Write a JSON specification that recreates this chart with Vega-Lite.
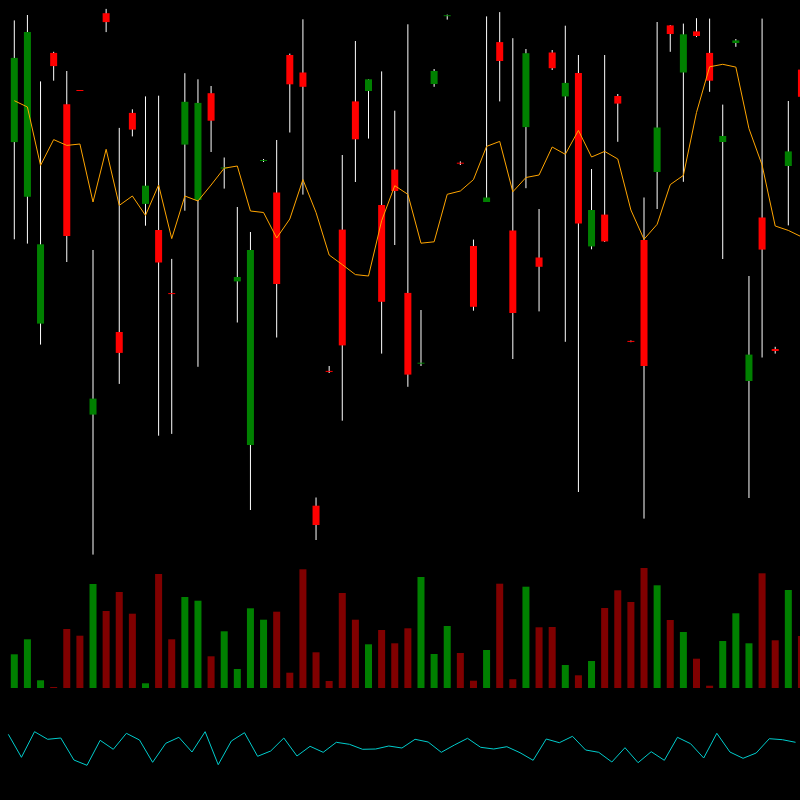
{
  "$schema": "https://vega.github.io/schema/vega-lite/v6.json",
  "width": 800,
  "height": 800,
  "autosize": {"type": "none"},
  "padding": 0,
  "background": "#000000",
  "config": {"view": {"stroke": null}},
  "data": {"values": [
    {"i":0,"o":45.79,"h":57.96,"l":36.07,"c":54.21,"ma":49.93,"v":3370,"ind":65.7,"dir":"up"},
    {"i":1,"o":40.32,"h":58.5,"l":35.64,"c":56.79,"ma":49.3,"v":4870,"ind":42.7,"dir":"up"},
    {"i":2,"o":27.64,"h":51.86,"l":25.54,"c":35.57,"ma":43.46,"v":770,"ind":68.3,"dir":"up"},
    {"i":3,"o":54.71,"h":54.82,"l":51.93,"c":53.39,"ma":46.04,"v":100,"ind":60.7,"dir":"down"},
    {"i":4,"o":49.57,"h":52.9,"l":33.8,"c":36.4,"ma":45.46,"v":5900,"ind":62,"dir":"down"},
    {"i":5,"o":51.0,"h":51.0,"l":50.9,"c":50.9,"ma":45.6,"v":5230,"ind":40,"dir":"down"},
    {"i":6,"o":18.54,"h":35.0,"l":4.54,"c":20.14,"ma":39.8,"v":10400,"ind":34.7,"dir":"up"},
    {"i":7,"o":58.68,"h":59.11,"l":56.79,"c":57.79,"ma":45.07,"v":7700,"ind":59.7,"dir":"down"},
    {"i":8,"o":26.8,"h":47.21,"l":21.61,"c":24.71,"ma":39.46,"v":9600,"ind":50.7,"dir":"down"},
    {"i":9,"o":48.71,"h":49.07,"l":46.36,"c":47.04,"ma":40.4,"v":7430,"ind":66.7,"dir":"down"},
    {"i":10,"o":39.61,"h":50.36,"l":37.43,"c":41.43,"ma":38.46,"v":470,"ind":60,"dir":"up"},
    {"i":11,"o":37.0,"h":50.43,"l":16.43,"c":33.75,"ma":41.5,"v":11400,"ind":37.7,"dir":"down"},
    {"i":12,"o":30.69,"h":34.11,"l":16.61,"c":30.59,"ma":36.14,"v":4870,"ind":56.7,"dir":"down"},
    {"i":13,"o":45.54,"h":52.68,"l":38.93,"c":49.82,"ma":40.4,"v":9100,"ind":62.7,"dir":"up"},
    {"i":14,"o":40.0,"h":52.07,"l":23.32,"c":49.71,"ma":39.9,"v":8730,"ind":48,"dir":"up"},
    {"i":15,"o":50.68,"h":51.4,"l":44.8,"c":47.93,"ma":41.5,"v":3170,"ind":68.3,"dir":"down"},
    {"i":16,"o":43.15,"h":44.25,"l":41.14,"c":43.25,"ma":43.18,"v":5670,"ind":35.3,"dir":"up"},
    {"i":17,"o":31.86,"h":39.3,"l":27.75,"c":32.3,"ma":43.4,"v":1900,"ind":59,"dir":"up"},
    {"i":18,"o":15.5,"h":36.8,"l":9.0,"c":35.0,"ma":38.9,"v":7970,"ind":67.3,"dir":"up"},
    {"i":19,"o":43.9,"h":44.1,"l":43.8,"c":44.0,"ma":38.75,"v":6830,"ind":43.7,"dir":"up"},
    {"i":20,"o":40.75,"h":46.0,"l":26.25,"c":31.6,"ma":36.2,"v":7630,"ind":49,"dir":"down"},
    {"i":21,"o":54.5,"h":54.64,"l":46.75,"c":51.57,"ma":38.1,"v":1530,"ind":62,"dir":"down"},
    {"i":22,"o":52.75,"h":58.07,"l":40.54,"c":51.32,"ma":42.04,"v":11870,"ind":44,"dir":"down"},
    {"i":23,"o":9.43,"h":10.25,"l":6.0,"c":7.5,"ma":38.75,"v":3570,"ind":53.7,"dir":"down"},
    {"i":24,"o":22.91,"h":23.4,"l":22.7,"c":22.81,"ma":34.5,"v":700,"ind":47.7,"dir":"down"},
    {"i":25,"o":37.04,"h":44.5,"l":17.93,"c":25.46,"ma":33.54,"v":9500,"ind":57.7,"dir":"down"},
    {"i":26,"o":49.86,"h":55.9,"l":41.8,"c":46.07,"ma":32.54,"v":6830,"ind":55.7,"dir":"down"},
    {"i":27,"o":50.9,"h":52.07,"l":46.14,"c":52.07,"ma":32.4,"v":4370,"ind":50.7,"dir":"up"},
    {"i":28,"o":39.5,"h":52.86,"l":24.64,"c":29.82,"ma":37.93,"v":5800,"ind":51,"dir":"down"},
    {"i":29,"o":43.04,"h":48.93,"l":35.5,"c":40.9,"ma":41.43,"v":4470,"ind":54,"dir":"down"},
    {"i":30,"o":30.71,"h":57.57,"l":21.32,"c":22.54,"ma":40.57,"v":5970,"ind":52,"dir":"down"},
    {"i":31,"o":23.63,"h":29.0,"l":23.4,"c":23.73,"ma":35.68,"v":11100,"ind":60.7,"dir":"up"},
    {"i":32,"o":51.6,"h":53.1,"l":51.32,"c":52.9,"ma":35.82,"v":3400,"ind":58,"dir":"up"},
    {"i":33,"o":58.38,"h":58.54,"l":58.04,"c":58.48,"ma":40.57,"v":6200,"ind":47.7,"dir":"up"},
    {"i":34,"o":43.73,"h":43.86,"l":43.5,"c":43.63,"ma":40.9,"v":3500,"ind":55,"dir":"down"},
    {"i":35,"o":35.4,"h":36.04,"l":28.93,"c":29.32,"ma":42.04,"v":730,"ind":61.7,"dir":"down"},
    {"i":36,"o":39.8,"h":58.36,"l":39.8,"c":40.25,"ma":45.36,"v":3800,"ind":52.7,"dir":"up"},
    {"i":37,"o":55.79,"h":58.79,"l":49.86,"c":53.9,"ma":45.86,"v":10430,"ind":51,"dir":"down"},
    {"i":38,"o":36.96,"h":56.18,"l":24.1,"c":28.71,"ma":40.82,"v":870,"ind":53.3,"dir":"down"},
    {"i":39,"o":47.29,"h":55.1,"l":41.18,"c":54.68,"ma":42.25,"v":10130,"ind":47.3,"dir":"up"},
    {"i":40,"o":34.25,"h":39.1,"l":28.86,"c":33.32,"ma":42.5,"v":6070,"ind":39.7,"dir":"down"},
    {"i":41,"o":54.75,"h":55.0,"l":53.0,"c":53.18,"ma":45.3,"v":6100,"ind":61,"dir":"down"},
    {"i":42,"o":50.36,"h":57.43,"l":25.82,"c":51.71,"ma":44.57,"v":2300,"ind":57.3,"dir":"up"},
    {"i":43,"o":52.71,"h":54.5,"l":10.8,"c":37.64,"ma":46.96,"v":1270,"ind":63.7,"dir":"down"},
    {"i":44,"o":35.36,"h":43.1,"l":35.07,"c":39.0,"ma":44.3,"v":2700,"ind":50,"dir":"up"},
    {"i":45,"o":38.54,"h":54.5,"l":35.8,"c":35.86,"ma":44.86,"v":8000,"ind":47.7,"dir":"down"},
    {"i":46,"o":50.4,"h":50.6,"l":45.82,"c":49.64,"ma":44.1,"v":9770,"ind":38,"dir":"down"},
    {"i":47,"o":25.91,"h":25.95,"l":25.78,"c":25.81,"ma":39.0,"v":8600,"ind":52.3,"dir":"down"},
    {"i":48,"o":36.0,"h":40.25,"l":8.14,"c":23.4,"ma":36.07,"v":12000,"ind":37.3,"dir":"down"},
    {"i":49,"o":42.8,"h":57.8,"l":39.1,"c":47.25,"ma":37.57,"v":10270,"ind":48.3,"dir":"up"},
    {"i":50,"o":57.46,"h":57.5,"l":54.82,"c":56.6,"ma":41.54,"v":6800,"ind":39.7,"dir":"down"},
    {"i":51,"o":52.75,"h":57.64,"l":41.82,"c":56.57,"ma":42.46,"v":5600,"ind":62.7,"dir":"up"},
    {"i":52,"o":56.86,"h":58.18,"l":56.29,"c":56.4,"ma":48.75,"v":2930,"ind":56.3,"dir":"down"},
    {"i":53,"o":54.71,"h":58.14,"l":50.82,"c":51.93,"ma":53.32,"v":230,"ind":42,"dir":"down"},
    {"i":54,"o":45.8,"h":49.54,"l":34.1,"c":46.4,"ma":53.57,"v":4700,"ind":66.7,"dir":"up"},
    {"i":55,"o":55.7,"h":56.1,"l":55.32,"c":55.96,"ma":53.29,"v":7470,"ind":48,"dir":"up"},
    {"i":56,"o":21.9,"h":32.4,"l":10.2,"c":24.54,"ma":47.14,"v":4470,"ind":41.7,"dir":"up"},
    {"i":57,"o":38.25,"h":58.14,"l":24.25,"c":35.04,"ma":43.5,"v":11470,"ind":47,"dir":"down"},
    {"i":58,"o":25.1,"h":25.32,"l":24.64,"c":24.9,"ma":37.4,"v":4770,"ind":61.3,"dir":"down"},
    {"i":59,"o":43.4,"h":49.9,"l":37.46,"c":44.86,"ma":36.96,"v":9800,"ind":60.3,"dir":"up"},
    {"i":60,"o":53.04,"h":54.0,"l":48.0,"c":50.32,"ma":36.32,"v":5200,"ind":57.7,"dir":"down"}
  ]},
  "resolve": {"scale": {"x": "independent", "y": "independent"}},
  "layer": [
    {
      "layer": [
        {
          "mark": {"type": "rule", "color": "#ffffff", "strokeWidth": 1},
          "encoding": {
            "x": {"field": "i", "type": "quantitative", "axis": null, "scale": {"domain": [-1.09, 59.89], "nice": false, "zero": false, "padding": 0}},
            "y": {"field": "l", "type": "quantitative", "axis": null, "scale": {"domain": [4, 60], "range": [560, 0], "nice": false, "zero": false, "padding": 0}},
            "y2": {"field": "h"}
          }
        },
        {
          "mark": {"type": "bar", "size": 7},
          "encoding": {
            "x": {"field": "i", "type": "quantitative"},
            "y": {"field": "o", "type": "quantitative"},
            "y2": {"field": "c"},
            "color": {"condition": {"test": "datum.dir === 'up'", "value": "#008000"}, "value": "#ff0000"}
          }
        },
        {
          "mark": {"type": "line", "color": "#ffa500", "strokeWidth": 1},
          "encoding": {
            "x": {"field": "i", "type": "quantitative"},
            "y": {"field": "ma", "type": "quantitative"}
          }
        }
      ]
    },
    {
      "mark": {"type": "bar", "size": 7},
      "encoding": {
        "x": {"field": "i", "type": "quantitative", "axis": null, "scale": {"domain": [-1.09, 59.89], "nice": false, "zero": false, "padding": 0}},
        "y": {"field": "v", "type": "quantitative", "axis": null, "scale": {"domain": [0, 12800], "range": [688, 560], "nice": false, "padding": 0}},
        "color": {"condition": {"test": "datum.dir === 'up'", "value": "#008000"}, "value": "#800000"}
      }
    },
    {
      "mark": {"type": "line", "color": "#00cccc", "strokeWidth": 1},
      "encoding": {
        "x": {"field": "i", "type": "quantitative", "axis": null, "scale": {"domain": [-0.633, 60.34], "nice": false, "zero": false, "padding": 0}},
        "y": {"field": "ind", "type": "quantitative", "axis": null, "scale": {"domain": [0, 100], "range": [800, 700], "nice": false, "zero": false, "padding": 0}}
      }
    }
  ]
}
